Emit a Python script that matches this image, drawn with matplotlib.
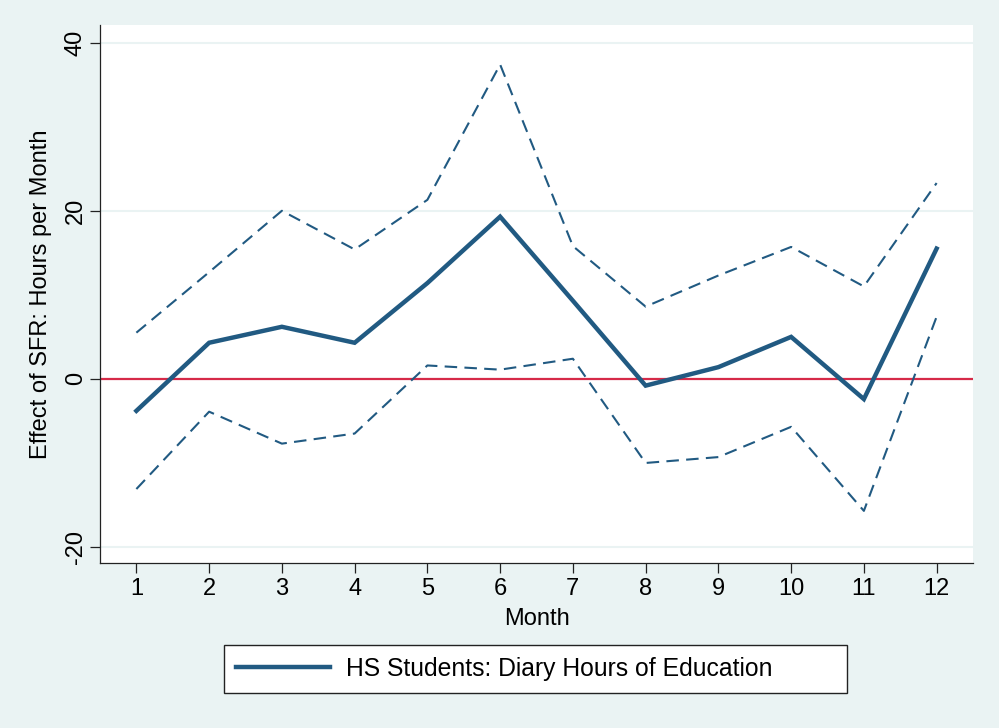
import matplotlib
matplotlib.use("Agg")
import matplotlib.pyplot as plt
from matplotlib.lines import Line2D
from matplotlib.patches import Rectangle

months = [1, 2, 3, 4, 5, 6, 7, 8, 9, 10, 11, 12]
estimate = [-3.8, 4.3, 6.2, 4.3, 11.4, 19.3, 9.3, -0.8, 1.4, 5.0, -2.4, 15.5]
upper_ci = [5.5, 12.7, 20.0, 15.4, 21.3, 37.4, 15.8, 8.6, 12.3, 15.7, 11.0, 23.3]
lower_ci = [-13.1, -3.9, -7.7, -6.5, 1.6, 1.1, 2.4, -10.0, -9.3, -5.7, -15.7, 7.4]
y_ticks = [-20, 0, 20, 40]
legend_label = "HS Students: Diary Hours of Education"

plt.rcParams['font.family'] = ['Liberation Sans', 'DejaVu Sans']

bg = '#eaf3f3'
navy = '#215a82'
red = '#d62a48'
W, H = 999, 728

fig = plt.figure(figsize=(9.99, 7.28), dpi=100, facecolor=bg)
ax = fig.add_axes([100/W, 1-563/H, 873/W, 538/H])
ax.set_facecolor('white')

for yt in y_ticks:
    ax.axhline(yt, color=bg, lw=1.5, zorder=0)
ax.axhline(0, color=red, lw=1.6, zorder=1)

ax.plot(months, upper_ci, color=navy, lw=1.5, dashes=(6, 3.5), zorder=2)
ax.plot(months, lower_ci, color=navy, lw=1.5, dashes=(6, 3.5), zorder=2)
ax.plot(months, estimate, color=navy, lw=3.2, zorder=3, solid_joinstyle='miter')

ax.set_xlim(0.5, 12.5)
ax.set_ylim(-21.9, 42.1)
ax.set_xticks(months)
ax.set_yticks(y_ticks)
ax.set_yticklabels([str(v) for v in y_ticks], rotation=90, va='center')
ax.tick_params(axis='both', direction='out', length=7.5, width=0.9, labelsize=17, color='#222222')
ax.tick_params(axis='x', pad=3)
ax.tick_params(axis='y', pad=2)

for s in ['top', 'right']:
    ax.spines[s].set_visible(False)
for s in ['left', 'bottom']:
    ax.spines[s].set_linewidth(0.9)
    ax.spines[s].set_color('#222222')

ax.set_xlabel('Month', fontsize=17, labelpad=6)
ax.set_ylabel('Effect of SFR: Hours per Month', fontsize=17, labelpad=9)

# legend frame (Stata-style wide box)
frame = Rectangle((224/W, 1-693/H), 623/W, 48/H, transform=fig.transFigure,
                  facecolor='white', edgecolor='#222222', lw=1.0, zorder=5)
fig.patches.append(frame)

handle = Line2D([0], [0], color=navy, lw=3.2)
leg = fig.legend([handle], [legend_label], loc='center left', bbox_to_anchor=(236/W, 1-669/H),
                 fontsize=17.8, frameon=False, handlelength=3.8, borderpad=0,
                 handletextpad=0.65, borderaxespad=0)
leg.set_zorder(6)

fig.savefig('out.png', dpi=100, facecolor=bg)
